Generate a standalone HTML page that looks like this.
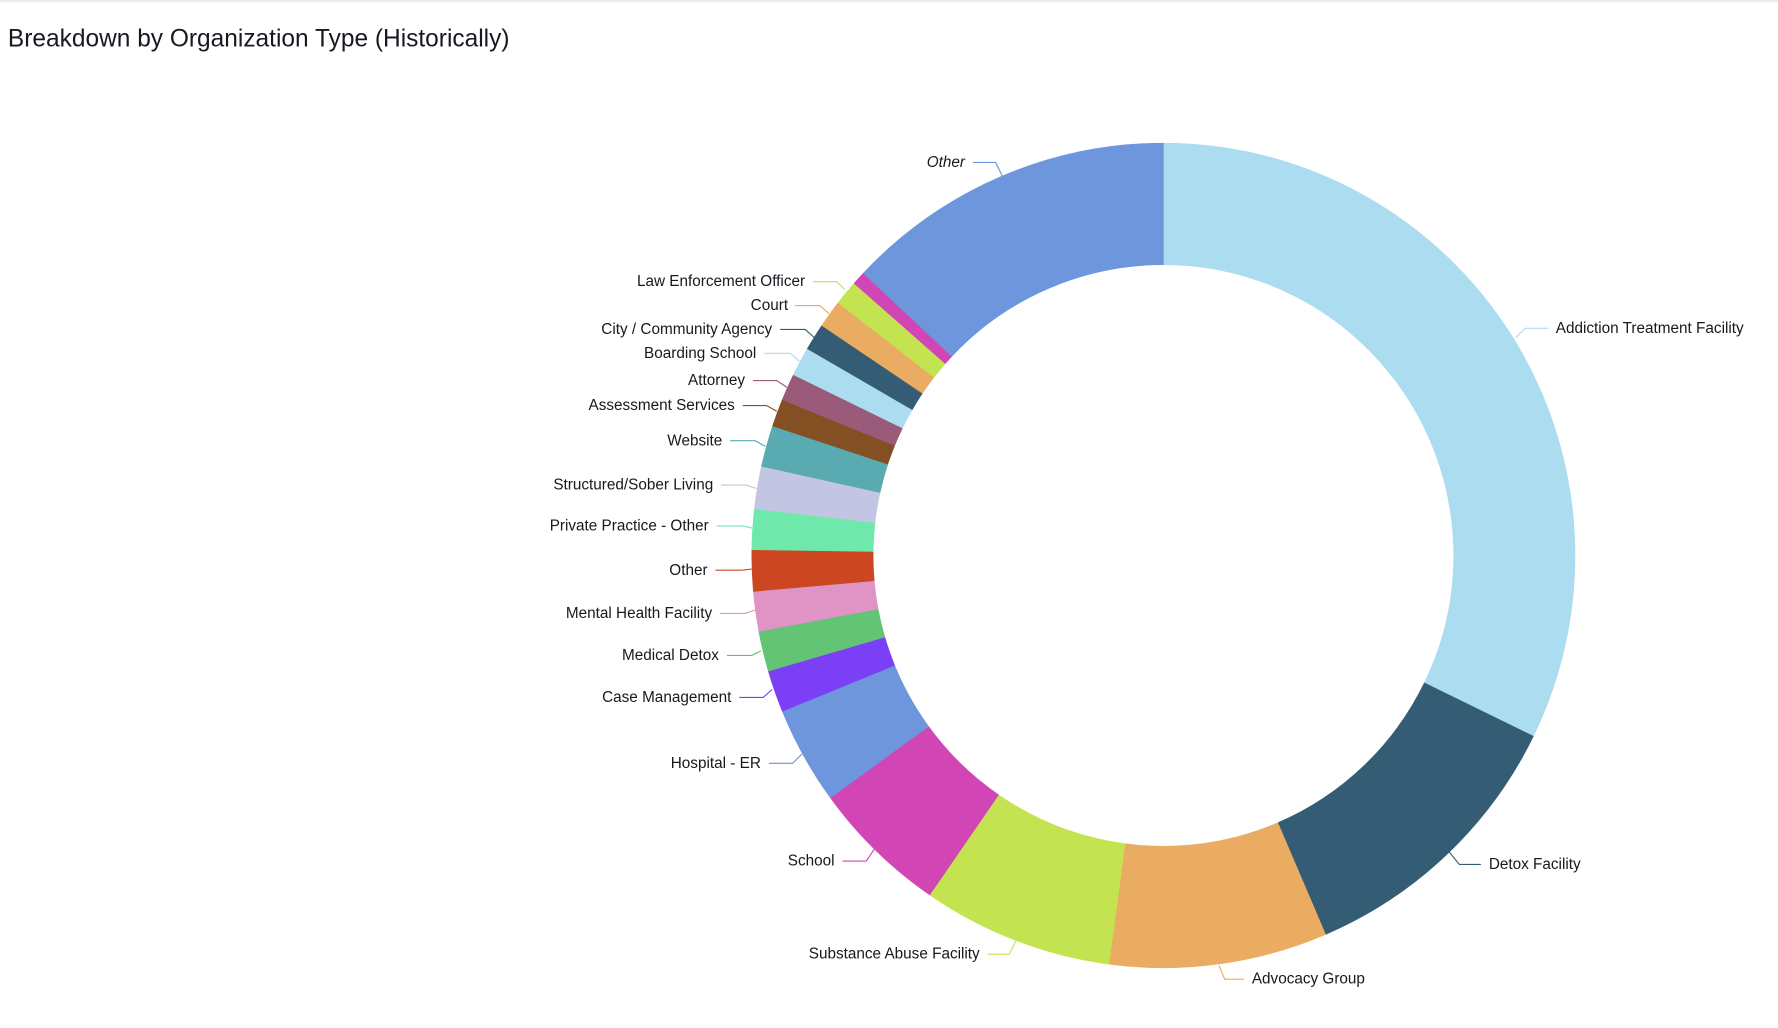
<!DOCTYPE html>
<html><head><meta charset="utf-8"><style>
html,body{margin:0;padding:0;background:#fff;width:1778px;height:1028px;overflow:hidden}
svg{display:block}
text{font-family:"Liberation Sans",sans-serif;fill:#16191f}
</style></head><body>
<svg id="s" width="1778" height="1028" viewBox="0 0 1568 905" preserveAspectRatio="none" xmlns="http://www.w3.org/2000/svg">
<rect x="0" y="0" width="1568" height="2" fill="#eaeded"/>
<text x="7" y="41" font-size="21.6">Breakdown by Organization Type (Historically)</text>
<g id="donut"></g>
<g fill="none" stroke-width="1">
<polyline points="858,143 878,143 884,155" stroke="#6d96dc"/>
<polyline points="717,248 738,248 745,255" stroke="#c3e351"/>
<polyline points="701,269 723,269 731,276" stroke="#eaac62"/>
<polyline points="688,290 710,290 718,297" stroke="#355c75"/>
<polyline points="674,311 697,311 705,318" stroke="#acdcf0"/>
<polyline points="664,335 685,335 694,341" stroke="#9a5a79"/>
<polyline points="655,357 676,357 685,362" stroke="#844f22"/>
<polyline points="644,388 666,388 675,393" stroke="#5aabb1"/>
<polyline points="636,427 658,427 667,430" stroke="#c3c6e2"/>
<polyline points="632,463 655,463 664,465" stroke="#6fe9ab"/>
<polyline points="631,502 654,502 663,501" stroke="#cc4622"/>
<polyline points="635,540 657,540 666,537" stroke="#e093c5"/>
<polyline points="641,577 663,577 671,573" stroke="#62c474"/>
<polyline points="652,614 673,614 681,607" stroke="#7b3ff5"/>
<polyline points="678,672 699,672 708,663" stroke="#6d96dc"/>
<polyline points="743,758 764,758 772,746" stroke="#d145b4"/>
<polyline points="871,840 890,840 896,828" stroke="#c3e351"/>
<polyline points="1075,850 1080,862 1097,862" stroke="#eaac62"/>
<polyline points="1278,750 1287,761 1306,761" stroke="#355c75"/>
<polyline points="1337,297 1345,289 1365,289" stroke="#acdcf0"/>
</g>
<g font-size="13.5">
<text x="851" y="147" text-anchor="end" font-style="italic">Other</text>
<text x="710" y="252" text-anchor="end">Law Enforcement Officer</text>
<text x="695" y="273" text-anchor="end">Court</text>
<text x="681" y="294" text-anchor="end">City / Community Agency</text>
<text x="667" y="315" text-anchor="end">Boarding School</text>
<text x="657" y="339" text-anchor="end">Attorney</text>
<text x="648" y="361" text-anchor="end">Assessment Services</text>
<text x="637" y="392" text-anchor="end">Website</text>
<text x="629" y="431" text-anchor="end">Structured/Sober Living</text>
<text x="625" y="467" text-anchor="end">Private Practice - Other</text>
<text x="624" y="506" text-anchor="end">Other</text>
<text x="628" y="544" text-anchor="end">Mental Health Facility</text>
<text x="634" y="581" text-anchor="end">Medical Detox</text>
<text x="645" y="618" text-anchor="end">Case Management</text>
<text x="671" y="676" text-anchor="end">Hospital - ER</text>
<text x="736" y="762" text-anchor="end">School</text>
<text x="864" y="844" text-anchor="end">Substance Abuse Facility</text>
<text x="1104" y="866">Advocacy Group</text>
<text x="1313" y="765">Detox Facility</text>
<text x="1372" y="293">Addiction Treatment Facility</text>
</g>
</svg>
<script>
var cx=1026,cy=489,R=363,r=256;
var segs=[[0,116,"#acdcf0"],[116,156.8,"#355c75"],[156.8,187.6,"#eaac62"],[187.6,214.6,"#c3e351"],[214.6,234,"#d145b4"],[234,247.8,"#6d96dc"],[247.8,253.7,"#7b3ff5"],[253.7,259.4,"#62c474"],[259.4,265,"#e093c5"],[265,270.8,"#cc4622"],[270.8,276.5,"#6fe9ab"],[276.5,282.5,"#c3c6e2"],[282.5,288.3,"#5aabb1"],[288.3,292.2,"#844f22"],[292.2,296,"#9a5a79"],[296,300.1,"#acdcf0"],[300.1,303.9,"#355c75"],[303.9,307.8,"#eaac62"],[307.8,311.3,"#c3e351"],[311.3,313.2,"#d145b4"],[313.2,360,"#6d96dc"]];
function p(a,rad){a=a*Math.PI/180;return (cx+rad*Math.sin(a)).toFixed(2)+","+(cy-rad*Math.cos(a)).toFixed(2);}
var g=document.getElementById("donut"),h="";
segs.forEach(function(s){var l=(s[1]-s[0])>180?1:0;
h+='<path fill="'+s[2]+'" stroke="'+s[2]+'" stroke-width="0.5" d="M'+p(s[0],R)+' A'+R+','+R+' 0 '+l+' 1 '+p(s[1],R)+' L'+p(s[1],r)+' A'+r+','+r+' 0 '+l+' 0 '+p(s[0],r)+' Z"/>';});
g.innerHTML=h;
</script>
</body></html>
